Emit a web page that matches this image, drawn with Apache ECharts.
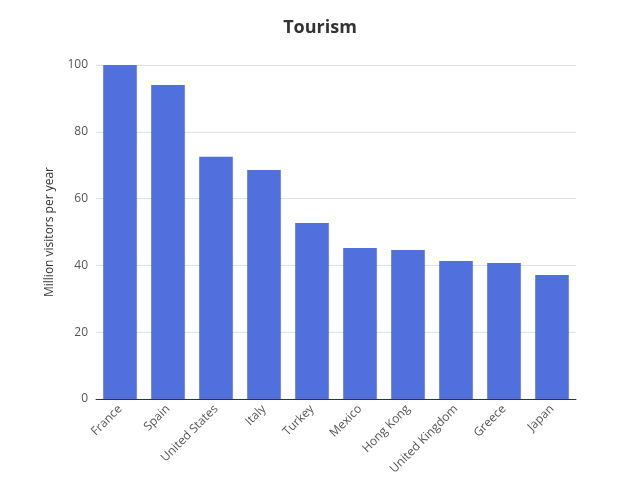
<!DOCTYPE html>
<html>
<head>
<meta charset="utf-8">
<script src="https://cdn.jsdelivr.net/npm/echarts@6/dist/echarts.min.js"></script>
<style>html,body{margin:0;padding:0;background:#fff}#main{width:640px;height:480px}</style>
</head>
<body>
<div id="main"></div>
<script>
var countries = ['France', 'Spain', 'United States', 'Italy', 'Turkey', 'Mexico', 'Hong Kong', 'United Kingdom', 'Greece', 'Japan'];
var visitors = [100.0, 94.0, 72.5, 68.6, 52.7, 45.2, 44.6, 41.3, 40.7, 37.1];

var chart = echarts.init(document.getElementById('main'), null, { renderer: 'canvas' });
var option = {
    textStyle: { fontFamily: 'Open Sans' },
    title: {
        text: 'Tourism',
        left: 'center',
        top: 14,
        textStyle: { fontSize: 18, fontWeight: 'bold', color: '#333' }
    },
    grid: { left: 96, right: 64, top: 65, bottom: 81 },
    xAxis: {
        type: 'category',
        data: countries,
        axisTick: { show: false },
        axisLine: { lineStyle: { color: '#333' } },
        axisLabel: { rotate: 45, color: '#555', fontSize: 12, interval: 0, margin: 8 }
    },
    yAxis: {
        type: 'value',
        min: 0,
        max: 100,
        interval: 20,
        name: 'Million visitors per year',
        nameLocation: 'middle',
        nameGap: 40,
        nameTextStyle: { color: '#333', fontSize: 12 },
        axisLabel: { color: '#555', fontSize: 12 },
        splitLine: { lineStyle: { color: '#e0e0e0' } }
    },
    series: [{
        type: 'bar',
        data: visitors,
        barCategoryGap: '30%',
        itemStyle: { color: '#5070de' }
    }]
};
chart.setOption(option);
</script>
</body>
</html>
